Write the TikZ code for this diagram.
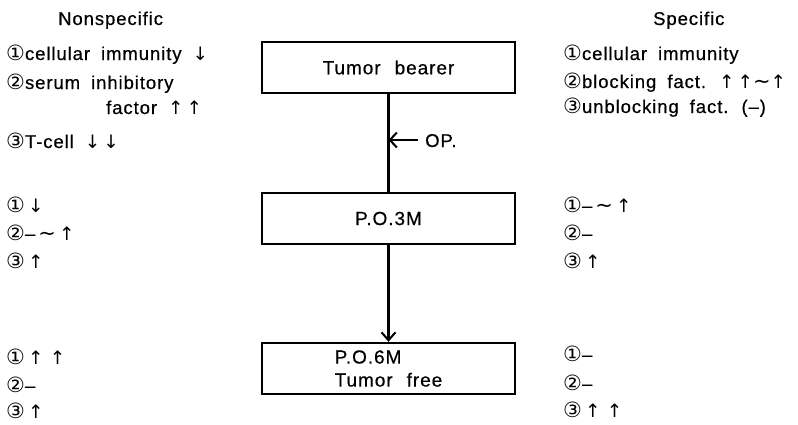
\documentclass[tikz,border=0pt]{standalone}
\usepackage{fontspec}
\setmainfont[LetterSpace=5,FakeBold=0.5]{Liberation Sans}
\newfontfamily\symf{DejaVu Sans}
\newcommand\sym{\symf\fontsize{21}{22}\selectfont}
\newcommand\arr{\symf}
\usetikzlibrary{arrows.meta}
\newcommand\lblfont{\fontsize{18.5}{22}\selectfont\spaceskip=11pt plus 2pt\relax}
\newcommand\stagefont{\fontsize{19}{23}\selectfont\spaceskip=14pt plus 2pt\relax}
\tikzset{
  stage/.style={draw, line width=2.4pt, minimum width=253pt, minimum height=51pt,
    inner sep=0pt, align=left, font=\stagefont},
  lbl/.style={anchor=base west, inner sep=0pt, font=\lblfont},
  flow/.style={line width=2.4pt},
  flowarrow/.style={line width=2.4pt, -{Straight Barb[length=8pt,width=14pt,line width=2pt]}},
  oparrow/.style={line width=2pt, -{Straight Barb[length=7pt,width=15pt,line width=2pt]}}
}
\begin{document}
\begin{tikzpicture}[x=1pt,y=-1pt]
\useasboundingbox (0,0) rectangle (798,424);
% central stages
\node[stage] (b1) at (388.5,67.5) {Tumor bearer};
\node[stage] (b2) at (388.5,218.5) {P.O.3M};
\node[stage] (b3) at (388.5,368.5) {P.O.6M\\Tumor free};
\draw[flow] (b1) -- (b2);
\draw[flowarrow] (b2) -- (b3);
\coordinate (opstart) at (418,140);
\draw[oparrow] (opstart) -- (opstart -| b1.south);
\node[lbl] (op) at (425,147) {OP.};
% left column
\node[lbl] (lh) at (58,25) {Nonspecific};
\node[lbl] (l11) at (6,60) {{\sym ①}cellular immunity {\arr ↓}};
\node[lbl] (l12) at (6,89) {{\sym ②}serum inhibitory};
\node[lbl] (l12b) at (106,114) {factor {\arr ↑\,↑}};
\node[lbl] (l13) at (6,148) {{\sym ③}T-cell {\arr ↓\,↓}};
\node[lbl] (l21) at (6,212) {{\sym ①}\,{\arr ↓}};
\node[lbl] (l22) at (6,240) {{\sym ②}–\,{\sym ∼}\,{\arr ↑}};
\node[lbl] (l23) at (6,268) {{\sym ③}\,{\arr ↑}};
\node[lbl] (l31) at (6,364) {{\sym ①}\,{\arr ↑\,\,↑}};
\node[lbl] (l32) at (6,392) {{\sym ②}–};
\node[lbl] (l33) at (6,418) {{\sym ③}\,{\arr ↑}};
% right column
\node[lbl] (rh) at (653,25) {Specific};
\node[lbl] (r11) at (563,60) {{\sym ①}cellular immunity};
\node[lbl] (r12) at (563,88) {{\sym ②}blocking fact. {\arr ↑\,↑}{\sym ∼}{\arr ↑}};
\node[lbl] (r13) at (563,113) {{\sym ③}unblocking fact. (–)};
\node[lbl] (r21) at (563,212) {{\sym ①}–\,{\sym ∼}\,{\arr ↑}};
\node[lbl] (r22) at (563,240) {{\sym ②}–};
\node[lbl] (r23) at (563,268) {{\sym ③}\,{\arr ↑}};
\node[lbl] (r31) at (563,361) {{\sym ①}–};
\node[lbl] (r32) at (563,390) {{\sym ②}–};
\node[lbl] (r33) at (563,417) {{\sym ③}\,{\arr ↑\,\,↑}};
\end{tikzpicture}
\end{document}
